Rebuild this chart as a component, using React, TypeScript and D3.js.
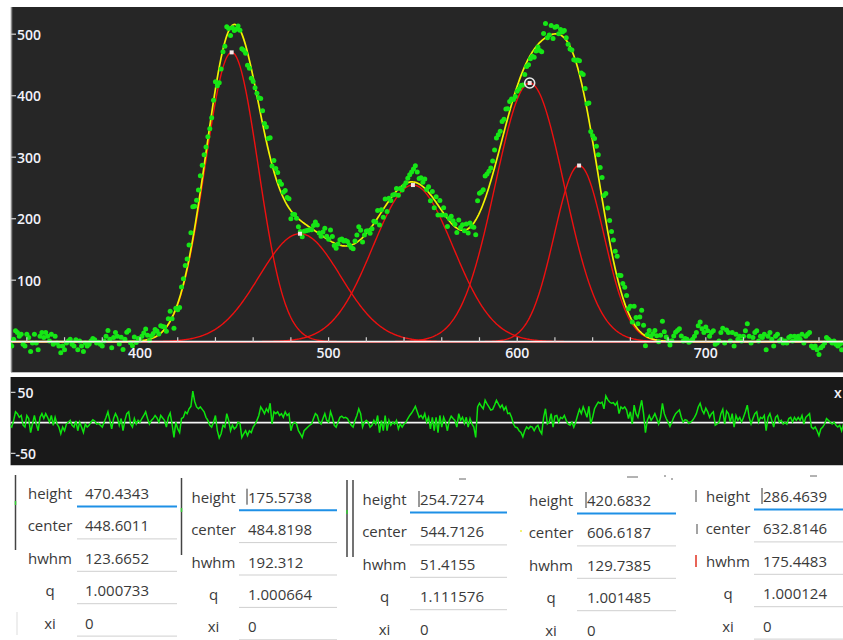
import React from 'react';
import * as d3 from 'd3';

// ---- data ----
const compHeight = [470.4343, 175.5738, 254.7274, 420.6832, 286.4639];
const compCenter = [448.6011, 484.8198, 544.7126, 606.6187, 632.8146];
const compWidth = [16.6, 25.4, 25, 21.5, 15.5]; // visual half width (x units)
const selectedComp = 3;

const xStart = 331;
const residual = [
  -4, -7, 4, 18, 15, 9, 12, -4, -7, 12,
  7, -16, -2, 12, -2, -13, 9, 15, 7, 15,
  9, 1, 12, -4, 9, -2, -7, -18, -7, -13,
  -2, 1, 4, -4, -7, 3, -13, 1, -7, -16,
  -2, -7, -4, 1, 5, 3, -2, -1, -4, -7,
  1, 9, 18, 4, -10, 7, 15, 9, -4, 7,
  -13, 4, 15, 18, -2, -7, 7, -2, 4, 1,
  7, 12, 18, 7, -2, 4, 7, 12, 8, 1,
  12, 8, 4, -7, 9, 16, -2, -24, 1, -10,
  -16, 7, 9, 18, 15, 23, 27, 52, 35, 26,
  23, 26, 22, 18, 9, 4, -4, -7, 1, 12,
  -13, -25, -18, -4, -7, 15, 4, -13, -4, -10,
  -7, 1, -1, -24, -18, -13, -21, -13, -16, -7,
  -2, 4, 12, 26, 21, 15, 23, 18, 32, -2,
  18, 15, 18, 12, 15, 9, 18, 12, 15, -13,
  -2, 1, -2, -13, -18, -24, -13, -10, -7, -4,
  -2, 7, 15, 12, 1, -2, 7, 15, 4, 1,
  18, 9, -4, -7, 1, 9, 11, 8, 9, 7,
  1, -4, -7, 4, 12, 23, 15, -7, 1, 4,
  1, -7, -4, 4, -2, 12, -16, 4, -13, 12,
  -13, 4, -4, 1, -2, 4, -10, -2, -7, -2,
  1, 7, 12, 16, 21, 27, 18, 9, 12, 7,
  15, 1, 9, -10, 9, -13, 9, -16, 12, -7,
  9, 1, -13, 4, 11, 7, 4, -7, 15, 4,
  9, -1, 9, -7, 7, -2, -7, -24, 26, 32,
  27, 23, 37, 31, 26, 21, 22, 29, 37, 31,
  25, 29, 21, 26, 15, 16, 9, -2, -7, -8,
  -13, -16, -23, -13, -7, -10, -6, -7, -13, -7,
  -4, -13, -18, 9, 23, -2, 1, 15, -7, 11,
  12, 1, 9, 7, 12, 4, -2, -4, 1, -7,
  1, 12, 22, 15, 26, 18, 9, 27, -2, 9,
  23, 29, 34, 32, 34, 23, 44, 38, 34, 32,
  33, 29, 34, 15, 26, 23, 26, 21, 7, 18,
  -2, 29, 15, 9, 23, 37, 15, -16, 4, 12,
  4, 9, 15, 7, -2, 9, 32, 15, 7, 1,
  -6, 1, 9, 15, 18, 21, 9, 1, 5, 4,
  -1, 1, 4, 9, 15, 26, 32, 21, 15, 24,
  18, 9, 15, 18, -4, -2, 1, 15, 22, -2,
  19, 15, 1, 15, -7, 12, 4, 9, 1, 9,
  18, 29, 9, -2, 7, 15, 18, 1, 9, 7,
  12, -13, 9, 15, 4, -7, 9, 12, 1, 4,
  -2, 1, -2, 7, 9, 1, 9, 4, 9, 4,
  12, -2, 9, 12, 15, -7, -10, -7, -13, -21,
  -10, -7, -2, 7, 4, 1, -2, 1, -4, -7,
  -4, -13, -2, -7,
];

const xTicksMajor = [400, 500, 600, 700];
const yTicks = [100, 200, 300, 400, 500];
const resTicks = [50, -50];

const paramLabels = ['height', 'center', 'hwhm', 'q', 'xi'];
const paramHeight = ['470.4343', '175.5738', '254.7274', '420.6832', '286.4639'];
const paramCenter = ['448.6011', '484.8198', '544.7126', '606.6187', '632.8146'];
const paramHwhm = ['123.6652', '192.312', '51.4155', '129.7385', '175.4483'];
const paramQ = ['1.000733', '1.000664', '1.111576', '1.001485', '1.000124'];
const paramXi = ['0', '0', '0', '0', '0'];

// ---- layout ----
const W = 843, H = 640;
const mainL = 11, mainR = 843, mainT = 7, mainB = 372;
const resL = 10.5, resT = 377, resB = 465;

const x = d3.scaleLinear().domain([400, 700]).range([140, 705.8]);
const y = d3.scaleLinear().domain([0, 500]).range([341.7, 34.2]);
const yr = d3.scaleLinear().domain([-50, 50]).range([453.3, 392.3]);

const comp = (k: number, v: number) => {
  const d = (v - compCenter[k]) / compWidth[k];
  return compHeight[k] * Math.exp(-Math.LN2 * d * d);
};
const fit = (v: number) => compHeight.reduce((s, _h, k) => s + comp(k, v), 0);

const xs = d3.range(331, 775, 0.5);
const line = d3.line<[number, number]>().x(d => x(d[0])).y(d => y(d[1]));
const resLine = d3.line<number>().x((_d, i) => x(xStart + i)).y(d => yr(d));

const dataPts = residual.map((r, i) => {
  const xv = xStart + i;
  return [xv, fit(xv) + r] as [number, number];
});

const minorTicks = d3.range(340, 780, 20);

const colLabelCx = [50, 213.5, 384.5, 551, 728];
const colValueX = [85, 248, 420, 587, 763];
const colLineX = [[77, 177], [239, 337], [410, 507], [577, 676], [754, 843]];
const colRowY = [493, 496.7, 499, 500, 496];
const rowStep = 32.4;

export default function App() {
  const tickFont = { fontFamily: '"Open Sans", sans-serif', fontWeight: 600, fontSize: 14 };
  const tblFont = { fontFamily: '"Open Sans", sans-serif', fontSize: 15 };
  const values = [paramHeight, paramCenter, paramHwhm, paramQ, paramXi];
  return (
    <svg width={W} height={H} style={{ position: 'absolute', left: 0, top: 0, background: '#fff' }}>
      <defs>
        <clipPath id="mainClip"><rect x={mainL} y={mainT} width={mainR - mainL} height={mainB - mainT} /></clipPath>
        <clipPath id="resClip"><rect x={resL} y={resT} width={W - resL} height={resB - resT} /></clipPath>
      </defs>

      {/* main panel */}
      <rect x={mainL} y={mainT} width={mainR - mainL} height={mainB - mainT} fill="#262626" />
      <line x1={mainL + 0.5} x2={mainL + 0.5} y1={mainT} y2={mainB} stroke="#8a8a8a" strokeWidth={1.5} />
      <line x1={mainL} x2={W} y1={mainB + 0.5} y2={mainB + 0.5} stroke="#bdbdbd" strokeWidth={1} />

      <g clipPath="url(#mainClip)">
        {compHeight.map((_h, k) => (
          <path key={k} d={line(xs.map(v => [v, comp(k, v)] as [number, number])) || ''}
            fill="none" stroke="#ee1010" strokeWidth={1.4} />
        ))}
        <path d={line(xs.map(v => [v, fit(v)] as [number, number])) || ''} fill="none" stroke="#f2f200" strokeWidth={1.7} />
        {dataPts.map((p, i) => (
          <circle key={i} cx={x(p[0])} cy={y(p[1])} r={2.5} fill="#16e616" />
        ))}
        {/* x axis */}
        <line x1={mainL} x2={W} y1={y(0)} y2={y(0)} stroke="#f4f4f4" strokeWidth={1.8} />
        {minorTicks.map(t => (
          <line key={t} x1={x(t)} x2={x(t)} y1={y(0)} y2={y(0) - 4.5} stroke="#d0d0d0" strokeWidth={1.2} />
        ))}
        {xTicksMajor.map(t => (
          <text key={t} x={x(t)} y={y(0) + 10.5} textAnchor="middle" dominantBaseline="central" fill="#f2f2fa" {...tickFont}>{t}</text>
        ))}
        {yTicks.map(t => (
          <g key={t}>
            <line x1={mainL} x2={mainL + 5} y1={y(t)} y2={y(t)} stroke="#c8c8c8" strokeWidth={1.3} />
            <text x={mainL + 6} y={y(t)} dominantBaseline="central" fill="#f2f2fa" {...tickFont}>{t}</text>
          </g>
        ))}
        {compHeight.map((h, k) => (
          <rect key={k} x={x(compCenter[k]) - 2} y={y(h) - 2} width={4} height={4} fill="#f4e6e6" />
        ))}
        <circle cx={x(compCenter[selectedComp])} cy={y(compHeight[selectedComp])} r={5} fill="none" stroke="#e8e8e8" strokeWidth={1.6} />
      </g>

      {/* residual panel */}
      <rect x={resL} y={resT} width={W - resL} height={resB - resT} fill="#191919" />
      <line x1={resL} x2={resL} y1={resT} y2={resB} stroke="#9a9a9a" strokeWidth={1} />
      <line x1={resL} x2={W} y1={resB + 0.5} y2={resB + 0.5} stroke="#c8c8c8" strokeWidth={1} />
      <g clipPath="url(#resClip)">
        <line x1={resL} x2={W} y1={yr(0) - 1.2} y2={yr(0) - 1.2} stroke="#555" strokeWidth={1} />
        <line x1={resL} x2={W} y1={yr(0)} y2={yr(0)} stroke="#f4f4f4" strokeWidth={1.5} />
        <path d={resLine(residual) || ''} fill="none" stroke="#0ee40e" strokeWidth={1.5} />
        {resTicks.map(t => (
          <g key={t}>
            <line x1={resL} x2={resL + 5} y1={yr(t)} y2={yr(t)} stroke="#c8c8c8" strokeWidth={1.3} />
            <text x={t < 0 ? resL + 5 : resL + 7} y={yr(t)} dominantBaseline="central" fill="#f2f2fa" {...tickFont}>{t}</text>
          </g>
        ))}
      </g>
      <text x={834} y={yr(50)} dominantBaseline="central" fill="#f2f2fa" {...tickFont}>x</text>

      {/* parameter tables */}
      {colLabelCx.map((cx, c) => (
        <g key={c}>
          {paramLabels.map((lab, r) => {
            const ry = colRowY[c] + r * rowStep;
            return (
              <g key={r}>
                <text x={cx} y={ry} textAnchor="middle" dominantBaseline="central" fill="#3a3a3a" {...tblFont}>{lab}</text>
                <text x={colValueX[c]} y={ry} dominantBaseline="central" fill="#3a3a3a" {...tblFont}>{values[r][c]}</text>
                <line x1={colLineX[c][0]} x2={colLineX[c][1]} y1={ry + 13.5} y2={ry + 13.5}
                  stroke={r === 0 ? '#1e90e6' : '#cfcfcf'} strokeWidth={r === 0 ? 2 : 1} />
              </g>
            );
          })}
          {c > 0 && (
            <line x1={colValueX[c] - 1} x2={colValueX[c] - 1} y1={colRowY[c] - 8} y2={colRowY[c] + 8} stroke="#333" strokeWidth={1} />
          )}
        </g>
      ))}
      {/* separators */}
      <line x1={15.5} x2={15.5} y1={475} y2={550} stroke="#444" strokeWidth={1.5} />
      <line x1={181.5} x2={181.5} y1={478} y2={555} stroke="#444" strokeWidth={1.5} />
      <line x1={347} x2={347} y1={480} y2={557} stroke="#444" strokeWidth={1.5} />
      <line x1={353} x2={353} y1={480} y2={557} stroke="#444" strokeWidth={1.5} />
      <line x1={15.5} x2={15.5} y1={501} y2={505} stroke="#3c3" strokeWidth={1.5} />
      <line x1={181.5} x2={181.5} y1={508} y2={512} stroke="#3c3" strokeWidth={1.5} />
      <line x1={347} x2={347} y1={510} y2={514} stroke="#3c3" strokeWidth={1.5} />
      <line x1={17} x2={17} y1={612} y2={635} stroke="#ddd" strokeWidth={1} />
      <line x1={459} x2={466} y1={479} y2={479} stroke="#666" strokeWidth={1} />
      <line x1={627} x2={638} y1={477} y2={477} stroke="#666" strokeWidth={1} />
      <line x1={810} x2={817} y1={476} y2={476} stroke="#666" strokeWidth={1} />
      <line x1={664} x2={666} y1={476} y2={476} stroke="#666" strokeWidth={1} />
      <line x1={671} x2={673} y1={479} y2={479} stroke="#666" strokeWidth={1} />
      <line x1={696} x2={696} y1={490} y2={502} stroke="#666" strokeWidth={1.2} />
      <line x1={697} x2={697} y1={524} y2={534} stroke="#666" strokeWidth={1.2} />
      <line x1={696} x2={696} y1={555} y2={567} stroke="#e03020" strokeWidth={1.5} />
      <circle cx={521} cy={531} r={1} fill="#ee4" />
    </svg>
  );
}
